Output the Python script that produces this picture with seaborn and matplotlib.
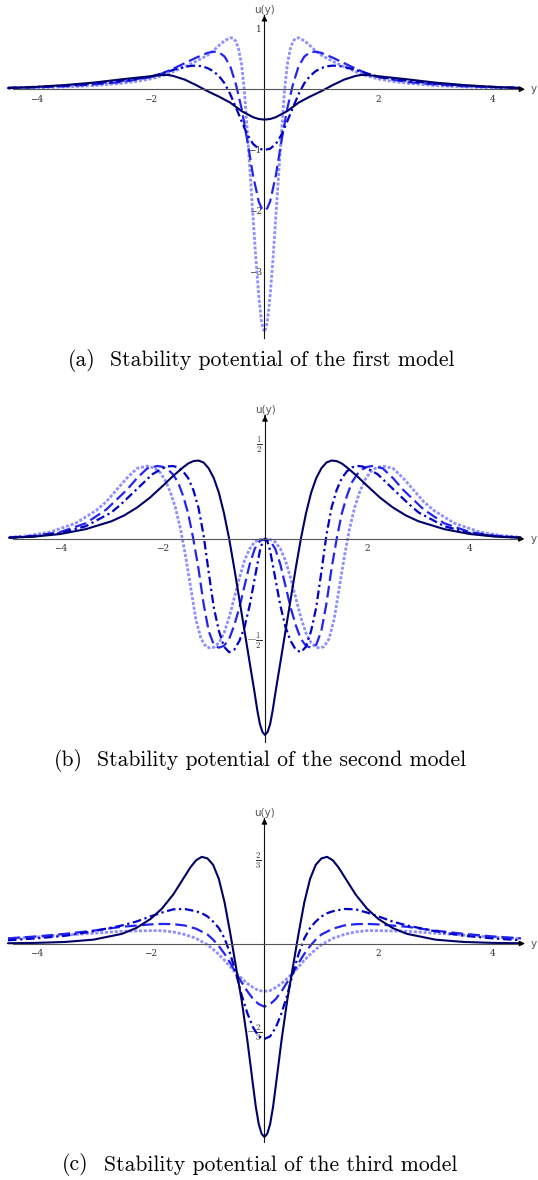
import numpy as np
import seaborn as sns
import matplotlib.pyplot as plt

# values, for y >= 0 (all curves are even in y)
# (a) first model
a_solid_x = [0, 0.1, 0.2, 0.4, 0.6, 0.8, 1.0, 1.2, 1.4, 1.6, 1.7, 1.8, 2.0, 2.25, 2.5, 3.0, 3.5, 4.0, 4.5]
a_solid_u = [-0.5, -0.49, -0.46, -0.36, -0.22, -0.12, -0.03, 0.07, 0.16, 0.22, 0.237, 0.235, 0.215, 0.19, 0.165, 0.11, 0.07, 0.04, 0.02]
a_dashdot_x = [0, 0.1, 0.2, 0.3, 0.4, 0.5, 0.6, 0.7, 0.8, 0.9, 1.0, 1.1, 1.2, 1.3, 1.4, 1.6, 1.8, 2.0, 2.25, 2.5, 3.0, 3.5, 4.0, 4.5]
a_dashdot_u = [-1.0, -0.98, -0.9, -0.75, -0.53, -0.3, -0.08, 0.1, 0.22, 0.3, 0.35, 0.38, 0.39, 0.385, 0.37, 0.32, 0.26, 0.21, 0.17, 0.14, 0.095, 0.06, 0.04, 0.025]
a_dashed_x = [0, 0.05, 0.1, 0.2, 0.3, 0.4, 0.5, 0.6, 0.7, 0.8, 0.9, 1.0, 1.2, 1.4, 1.6, 1.8, 2.0, 2.25, 2.5, 3.0, 3.5, 4.0, 4.5]
a_dashed_u = [-2.0, -1.96, -1.85, -1.42, -0.85, -0.32, 0.08, 0.38, 0.54, 0.61, 0.62, 0.6, 0.52, 0.43, 0.34, 0.26, 0.2, 0.16, 0.12, 0.08, 0.05, 0.033, 0.02]
a_dotted_x = [0, 0.05, 0.1, 0.15, 0.2, 0.25, 0.3, 0.35, 0.4, 0.45, 0.5, 0.55, 0.6, 0.7, 0.8, 0.9, 1.0, 1.2, 1.4, 1.6, 1.8, 2.0, 2.25, 2.5, 3.0, 3.5, 4.0, 4.5]
a_dotted_u = [-4.0, -3.85, -3.4, -2.8, -2.1, -1.4, -0.7, -0.05, 0.4, 0.65, 0.79, 0.84, 0.85, 0.8, 0.72, 0.63, 0.56, 0.46, 0.37, 0.29, 0.22, 0.17, 0.13, 0.1, 0.06, 0.04, 0.025, 0.015]

# (b) second model
b_solid_x = [0, 0.05, 0.1, 0.15, 0.2, 0.3, 0.4, 0.5, 0.6, 0.7, 0.8, 0.9, 1.0, 1.1, 1.2, 1.3, 1.4, 1.5, 1.6, 1.8, 2.0, 2.25, 2.5, 2.75, 3.0, 3.5, 4.0, 4.5, 5.0]
b_solid_u = [-1.0, -0.985, -0.945, -0.875, -0.79, -0.63, -0.47, -0.31, -0.15, 0.0, 0.13, 0.235, 0.31, 0.36, 0.39, 0.4, 0.397, 0.385, 0.365, 0.32, 0.27, 0.21, 0.16, 0.12, 0.09, 0.05, 0.025, 0.012, 0.006]
b_dashdot_x = [0, 0.05, 0.1, 0.2, 0.3, 0.4, 0.5, 0.6, 0.7, 0.8, 0.9, 1.0, 1.1, 1.2, 1.3, 1.4, 1.5, 1.6, 1.7, 1.8, 1.9, 2.0, 2.2, 2.4, 2.6, 2.8, 3.0, 3.5, 4.0, 4.5, 5.0]
b_dashdot_u = [0.0, -0.015, -0.06, -0.2, -0.34, -0.45, -0.52, -0.565, -0.578, -0.55, -0.47, -0.35, -0.17, 0.02, 0.16, 0.25, 0.31, 0.345, 0.365, 0.372, 0.37, 0.36, 0.33, 0.28, 0.23, 0.18, 0.135, 0.065, 0.03, 0.013, 0.006]
b_dashed_x = [0, 0.1, 0.2, 0.3, 0.4, 0.5, 0.6, 0.7, 0.8, 0.9, 1.0, 1.1, 1.2, 1.3, 1.4, 1.5, 1.6, 1.7, 1.8, 1.9, 2.0, 2.1, 2.3, 2.5, 2.7, 2.9, 3.1, 3.5, 4.0, 4.5, 5.0]
b_dashed_u = [0.0, -0.01, -0.05, -0.13, -0.24, -0.35, -0.44, -0.51, -0.545, -0.555, -0.54, -0.47, -0.33, -0.15, 0.0, 0.13, 0.22, 0.29, 0.33, 0.355, 0.368, 0.372, 0.36, 0.31, 0.25, 0.2, 0.15, 0.08, 0.035, 0.016, 0.007]
b_dotted_x = [0, 0.1, 0.2, 0.3, 0.4, 0.5, 0.6, 0.7, 0.8, 0.9, 1.0, 1.07, 1.15, 1.25, 1.35, 1.45, 1.55, 1.65, 1.75, 1.85, 1.95, 2.05, 2.15, 2.3, 2.5, 2.7, 2.9, 3.1, 3.3, 3.7, 4.2, 4.6, 5.0]
b_dotted_u = [0.0, -0.003, -0.015, -0.05, -0.11, -0.2, -0.3, -0.4, -0.48, -0.53, -0.553, -0.556, -0.55, -0.51, -0.41, -0.25, -0.09, 0.05, 0.16, 0.24, 0.3, 0.34, 0.36, 0.372, 0.36, 0.31, 0.25, 0.19, 0.145, 0.08, 0.035, 0.018, 0.008]

# (c) third model
c_solid_x = [0, 0.05, 0.1, 0.15, 0.2, 0.3, 0.4, 0.5, 0.6, 0.7, 0.8, 0.9, 1.0, 1.1, 1.2, 1.3, 1.4, 1.6, 1.8, 2.0, 2.25, 2.5, 3.0, 3.5, 4.0, 4.5]
c_solid_u = [-1.5, -1.475, -1.4, -1.27, -1.1, -0.75, -0.44, -0.18, 0.08, 0.32, 0.5, 0.61, 0.66, 0.672, 0.645, 0.59, 0.52, 0.38, 0.27, 0.19, 0.12, 0.075, 0.03, 0.012, 0.005, 0.002]
c_dashdot_x = [0, 0.1, 0.2, 0.3, 0.4, 0.5, 0.6, 0.7, 0.8, 0.9, 1.0, 1.1, 1.2, 1.4, 1.6, 1.8, 2.0, 2.25, 2.5, 3.0, 3.5, 4.0, 4.5]
c_dashdot_u = [-0.74, -0.72, -0.65, -0.54, -0.4, -0.23, -0.08, 0.04, 0.12, 0.17, 0.21, 0.235, 0.25, 0.268, 0.265, 0.24, 0.21, 0.17, 0.14, 0.095, 0.06, 0.04, 0.025]
c_dashed_x = [0, 0.1, 0.2, 0.3, 0.4, 0.5, 0.6, 0.7, 0.8, 0.9, 1.0, 1.2, 1.4, 1.6, 1.8, 2.0, 2.5, 3.0, 3.5, 4.0, 4.5]
c_dashed_u = [-0.49, -0.47, -0.43, -0.37, -0.3, -0.23, -0.15, -0.08, -0.02, 0.03, 0.07, 0.115, 0.14, 0.15, 0.152, 0.148, 0.13, 0.1, 0.075, 0.055, 0.04]
c_dotted_x = [0, 0.1, 0.2, 0.3, 0.4, 0.5, 0.6, 0.7, 0.8, 0.9, 1.0, 1.2, 1.4, 1.6, 1.8, 2.0, 2.5, 3.0, 3.5, 4.0, 4.5]
c_dotted_u = [-0.37, -0.365, -0.34, -0.31, -0.27, -0.23, -0.18, -0.13, -0.085, -0.045, -0.01, 0.04, 0.07, 0.09, 0.1, 0.1, 0.095, 0.08, 0.065, 0.05, 0.038]

x_ticks = [-4, -2, 2, 4]
x_tick_labels = ["\u22124", "\u22122", "2", "4"]
a_y_ticks = [1, -1, -2, -3]
a_y_tick_labels = ["1", "\u22121", "\u22122", "\u22123"]
b_y_ticks = [0.5, -0.5]
b_y_tick_labels = [r"$\frac{1}{2}$", r"$-\frac{1}{2}$"]
c_y_ticks = [2 / 3, -2 / 3]
c_y_tick_labels = [r"$\frac{2}{3}$", r"$-\frac{2}{3}$"]
captions = [("(a)", "Stability potential of the first model"),
            ("(b)", "Stability potential of the second model"),
            ("(c)", "Stability potential of the third model")]

sns.set_style("white")
plt.rcParams["lines.scale_dashes"] = False
plt.rcParams["mathtext.fontset"] = "cm"

W, H = 538, 1180

STYLES = [  # drawn from light to dark so the solid line sits on top
    ("dotted", "#8f8fff", 2.0, (0, (2.2, 1.3))),
    ("dashed", "#2424f0", 1.6, (0, (8.5, 3.6))),
    ("dashdot", "#0000c8", 1.6, (0, (6.2, 2.6, 1.6, 2.6))),
    ("solid", "#000068", 1.5, "-"),
]


def mirror(xs, us):
    xs = np.asarray(xs, dtype=float)
    us = np.asarray(us, dtype=float)
    return np.concatenate([-xs[:0:-1], xs]), np.concatenate([us[:0:-1], us])


def make_panel(fig, top_px, bottom_px, xlim, ylim, curves, yticks, ylabels,
               x_end, y_top, ytick_size):
    ax = fig.add_axes([0, 1 - bottom_px / H, 1, (bottom_px - top_px) / H])
    for name, color, lw, ls in STYLES:
        xs, us = mirror(*curves[name])
        sns.lineplot(x=xs, y=us, ax=ax, color=color, linewidth=lw,
                     linestyle=ls, sort=False, estimator=None)
    ax.set_xlim(*xlim)
    ax.set_ylim(*ylim)

    # Mathematica-style axes through the origin
    ax.spines["top"].set_visible(False)
    ax.spines["right"].set_visible(False)
    ax.spines["bottom"].set_position(("data", 0))
    ax.spines["left"].set_position(("data", 0))
    ax.spines["bottom"].set_bounds(-x_end + 0.1, x_end)
    ax.spines["left"].set_bounds(ylim[0], y_top)
    ax.spines["bottom"].set_color("#555555")
    ax.spines["left"].set_color("#111111")
    ax.spines["bottom"].set_linewidth(0.8)
    ax.spines["left"].set_linewidth(0.8)
    ax.annotate("", xy=(x_end + 0.1, 0), xytext=(x_end - 0.1, 0),
                arrowprops=dict(arrowstyle="-|>", color="black", lw=0.8,
                                mutation_scale=8))
    ax.annotate("", xy=(0, y_top), xytext=(0, y_top - 0.01 * (ylim[1] - ylim[0])),
                arrowprops=dict(arrowstyle="-|>", color="black", lw=0.8,
                                mutation_scale=8))

    ax.set_xticks(x_ticks)
    ax.set_xticklabels(x_tick_labels, family="DejaVu Serif", fontsize=6.5)
    ax.set_yticks(yticks)
    ax.set_yticklabels(ylabels, family="DejaVu Serif", fontsize=ytick_size)
    ax.tick_params(axis="x", direction="in", length=3, width=0.6, pad=4,
                   colors="#333333")
    ax.tick_params(axis="y", direction="in", length=3, width=0.6, pad=2,
                   colors="#333333")
    ax.set_xlabel("")
    ax.set_ylabel("")
    ax.grid(False)
    ax.patch.set_alpha(0)

    ax.text(0, y_top, "u(y)", ha="center", va="bottom", fontsize=7.5,
            color="#555555")
    ax.text(x_end + 0.16, 0, "y", ha="left", va="center", fontsize=7.5,
            color="#555555")
    return ax


fig = plt.figure(figsize=(W / 100, H / 100), dpi=100)

make_panel(fig, 8, 338, (-4.64, 4.80), (-4.10, 1.34),
           {"solid": (a_solid_x, a_solid_u), "dashdot": (a_dashdot_x, a_dashdot_u),
            "dashed": (a_dashed_x, a_dashed_u), "dotted": (a_dotted_x, a_dotted_u)},
           a_y_ticks, a_y_tick_labels, 4.52, 1.22, 6.5)

make_panel(fig, 398, 742, (-5.176, 5.332), (-1.036, 0.719),
           {"solid": (b_solid_x, b_solid_u), "dashdot": (b_dashdot_x, b_dashdot_u),
            "dashed": (b_dashed_x, b_dashed_u), "dotted": (b_dotted_x, b_dotted_u)},
           b_y_ticks, b_y_tick_labels, 5.02, 0.63, 9)

make_panel(fig, 805, 1142, (-4.64, 4.80), (-1.539, 1.074),
           {"solid": (c_solid_x, c_solid_u), "dashdot": (c_dashdot_x, c_dashdot_u),
            "dashed": (c_dashed_x, c_dashed_u), "dotted": (c_dotted_x, c_dotted_u)},
           c_y_ticks, c_y_tick_labels, 4.52, 0.97, 9)

# captions under each panel
for (tag, text), y_px, x_tag, x_txt in zip(captions, [360, 760, 1165],
                                            [68, 54, 62], [110, 97, 104]):
    fig.text(x_tag / W, 1 - y_px / H, tag, family="cmr10", fontsize=15.6,
             ha="left", va="center", color="black")
    fig.text(x_txt / W, 1 - y_px / H, text, family="cmr10", fontsize=15.6,
             ha="left", va="center", color="black")

fig.savefig("out.png", dpi=100)
